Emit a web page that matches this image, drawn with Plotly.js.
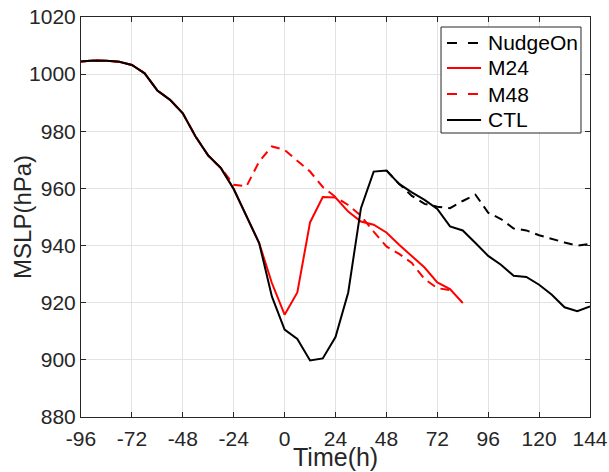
<!DOCTYPE html>
<html>
<head>
<meta charset="utf-8">
<script src="https://cdn.plot.ly/plotly-3.0.1.min.js"></script>
<style>html,body{margin:0;padding:0;background:#fff;}#chart{width:609px;height:472px;}</style>
</head>
<body>
<div id="chart"></div>
<script>
// Time axis (hours)
const timeCTL = [-96,-90,-84,-78,-72,-66,-60,-54,-48,-42,-36,-30,-24,-18,-12,-6,0,6,12,18,24,30,36,42,48,54,60,66,72,78,84,90,96,102,108,114,120,126,132,138,144];
const ctl = [1004.4,1004.8,1004.7,1004.3,1003.2,1000.3,994.3,991.0,986.3,978.2,971.5,967.1,959.8,950.2,940.9,922.2,910.6,907.3,899.8,900.5,908.0,923.6,953.1,965.9,966.3,961.6,958.6,956.0,952.8,946.7,945.3,940.9,936.4,933.3,929.4,929.0,926.3,922.8,918.4,917.0,918.7];

const timeM24 = [-96,-90,-84,-78,-72,-66,-60,-54,-48,-42,-36,-30,-24,-18,-12,-6,0,6,12,18,24,30,36,42,48,54,60,66,72,78,84];
const m24 = [1004.4,1004.8,1004.7,1004.3,1003.2,1000.3,994.3,991.0,986.3,978.2,971.5,967.1,959.8,950.2,940.9,926.9,915.8,923.6,948.1,957.0,956.8,951.9,948.4,947.3,944.6,940.3,936.4,932.3,927.1,924.8,919.9];

const timeM48 = [-96,-90,-84,-78,-72,-66,-60,-54,-48,-42,-36,-30,-24,-18,-12,-6,0,6,12,18,24,30,36,42,48,54,60,66,72,78];
const m48 = [1004.4,1004.8,1004.7,1004.3,1003.2,1000.3,994.3,991.0,986.3,978.2,971.5,967.1,961.3,960.7,969.4,974.7,973.5,969.8,965.9,960.5,957.0,954.2,950.4,944.9,939.7,937.1,933.9,928.3,925.1,924.4];

const timeNudge = [48,54,60,66,72,78,84,90,96,102,108,114,120,126,132,138,144];
const nudgeOn = [966.3,961.6,957.4,954.6,953.6,953.1,955.6,957.8,951.5,949.3,946.0,945.3,943.6,942.3,941.1,940.0,940.6];

const seriesNames = ['NudgeOn','M24','M48','CTL'];
const xTicks = [-96,-72,-48,-24,0,24,48,72,96,120,144];
const yTicks = [880,900,920,940,960,980,1000,1020];

const FONT = '"Liberation Sans", Arial, Helvetica, sans-serif';
const AX = '#262626';
const styles = [
  {color: '#000000', width: 2, dash: '9px,6px'},
  {color: '#ff0000', width: 2},
  {color: '#ff0000', width: 2, dash: '9px,6px'},
  {color: '#000000', width: 2}
];
const xs = [timeNudge, timeM24, timeM48, timeCTL];
const ys = [nudgeOn, m24, m48, ctl];

const traces = seriesNames.map((n, i) => ({
  x: xs[i], y: ys[i], name: n, mode: 'lines', line: styles[i], showlegend: false
}));

const axisCommon = {
  showline: true, linecolor: AX, linewidth: 1, mirror: 'ticks',
  ticks: 'inside', ticklen: 5, tickcolor: AX, tickwidth: 1,
  showgrid: true, gridcolor: '#e3e3e3', gridwidth: 1,
  zeroline: false, tickfont: {family: FONT, size: 21, color: AX}
};

// Legend drawn as box + samples + text (paper coordinates)
const legBox = {x0: 0.7073, x1: 0.9823, y0: 0.71, y1: 0.975};
const legRowY = [0.935, 0.8725, 0.8075, 0.7425];
const legLineX = [0.719, 0.786];
const legTextX = 0.7957;

const shapes = [{
  type: 'rect', xref: 'paper', yref: 'paper', x0: legBox.x0, x1: legBox.x1, y0: legBox.y0, y1: legBox.y1,
  line: {color: AX, width: 1}, fillcolor: '#ffffff', layer: 'above'
}];
const annotations = [];
seriesNames.forEach((n, i) => {
  shapes.push({
    type: 'line', xref: 'paper', yref: 'paper', x0: legLineX[0], x1: legLineX[1], y0: legRowY[i], y1: legRowY[i],
    line: {color: styles[i].color, width: 2, dash: styles[i].dash ? '10px,11px' : 'solid'}, layer: 'above'
  });
  annotations.push({
    text: n, xref: 'paper', yref: 'paper', x: legTextX, y: legRowY[i], xanchor: 'left', yanchor: 'middle',
    showarrow: false, font: {family: FONT, size: 21, color: '#000000'}
  });
});
annotations.push(
  {text: 'Time(h)', xref: 'paper', yref: 'paper', x: 0.5, y: -0.1, xanchor: 'center', yanchor: 'middle',
   showarrow: false, font: {family: FONT, size: 25, color: AX}},
  {text: 'MSLP(hPa)', xref: 'paper', yref: 'paper', x: -0.116, y: 0.5, xanchor: 'center', yanchor: 'middle',
   textangle: -90, showarrow: false, font: {family: FONT, size: 24, color: AX}}
);

const layout = {
  width: 609, height: 472,
  margin: {l: 81, r: 19, t: 17, b: 55, pad: 0},
  paper_bgcolor: '#ffffff', plot_bgcolor: '#ffffff',
  font: {family: FONT, color: AX},
  showlegend: false,
  xaxis: Object.assign({}, axisCommon, {
    range: [-96, 144], tickmode: 'array', tickvals: xTicks, ticktext: xTicks.map(String),
    ticklabelstandoff: 3
  }),
  yaxis: Object.assign({}, axisCommon, {
    range: [880, 1020], tickmode: 'array', tickvals: yTicks, ticktext: yTicks.map(String)
  }),
  shapes: shapes,
  annotations: annotations
};

Plotly.newPlot('chart', traces, layout, {staticPlot: true, displayModeBar: false});
</script>
</body>
</html>
